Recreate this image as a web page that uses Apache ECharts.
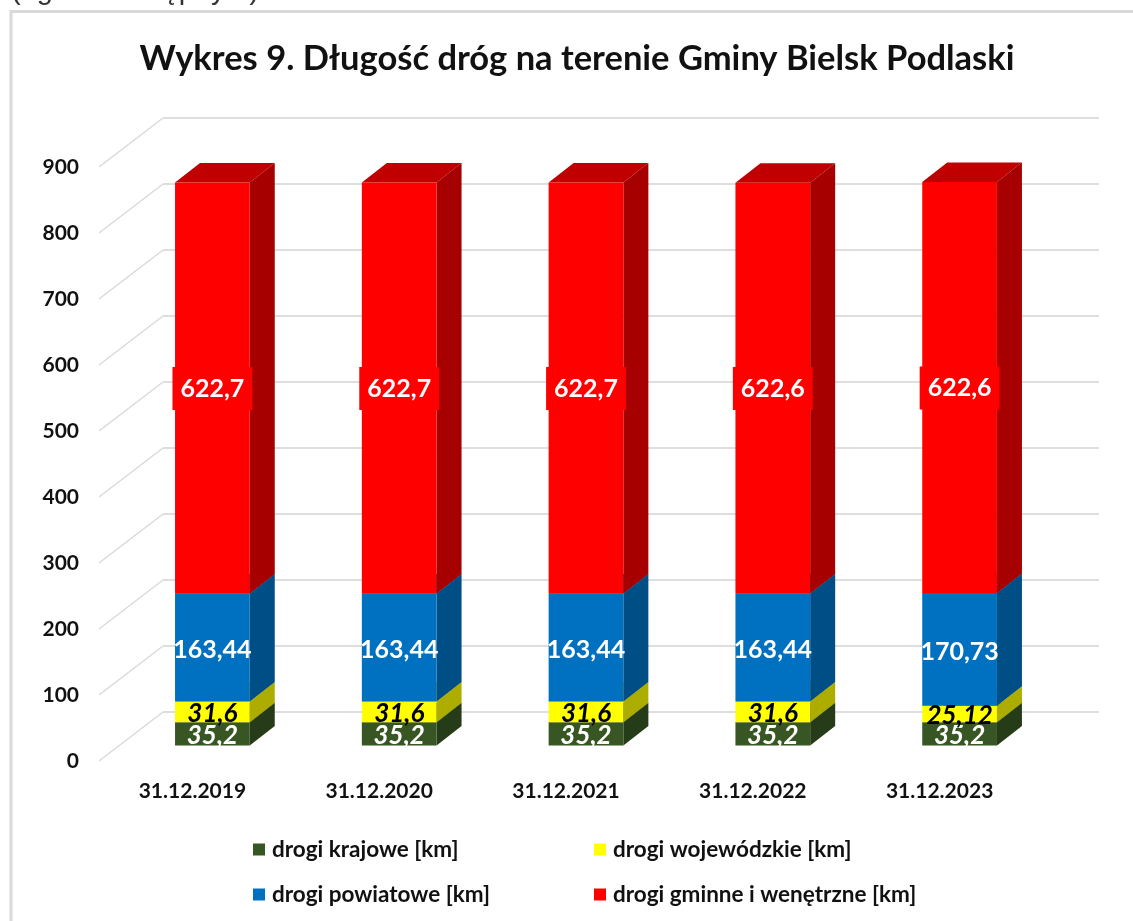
<!DOCTYPE html>
<html>
<head>
<meta charset="utf-8">
<title>Wykres 9</title>
<style>
  html, body { margin: 0; padding: 0; background: #fff; }
  #chart { width: 1133px; height: 921px; }
</style>
<script src="https://cdn.jsdelivr.net/npm/echarts@6/dist/echarts.min.js"></script>
</head>
<body>
<div id="chart"></div>
<script>
var categories = ["31.12.2019", "31.12.2020", "31.12.2021", "31.12.2022", "31.12.2023"];
var krajowe = [35.2, 35.2, 35.2, 35.2, 35.2];
var wojewodzkie = [31.6, 31.6, 31.6, 31.6, 25.12];
var powiatowe = [163.44, 163.44, 163.44, 163.44, 170.73];
var gminne = [622.7, 622.7, 622.7, 622.6, 622.6];
var yTicks = [0, 100, 200, 300, 400, 500, 600, 700, 800, 900];

var fontName = "Lato, 'Noto Sans', sans-serif";
var textColor = "#111111";

// udajemy 3D: sciana tylna przesunieta o wall*, slupek stoi w srodku glebokosci
var wallDx = 64, wallDy = -49;
var barDx = 20, barDy = -15.5;
var depthDx = 25, depthDy = -19.5;

// kolejne slupki stosu: [kategoria, poczatek, koniec, wartosc]
var offsets = categories.map(function () { return 0; });
function stackData(values) {
  return values.map(function (v, i) {
    var row = [i, offsets[i], offsets[i] + v, v];
    offsets[i] += v;
    return row;
  });
}

function barRender(face, side, top, label, labelDy) {
  return function (params, api) {
    var a = api.coord([api.value(0), api.value(1)]);
    var b = api.coord([api.value(0), api.value(2)]);
    var w = api.size([1, 0])[0] * 0.4;
    var x0 = a[0] - w / 2 + barDx, x1 = x0 + w;
    var y0 = a[1] + barDy, y1 = b[1] + barDy;
    var children = [
      { type: "polygon", z2: 1, shape: { points: [[x0, y1], [x1, y1], [x1 + depthDx, y1 + depthDy], [x0 + depthDx, y1 + depthDy]] }, style: { fill: top } },
      { type: "polygon", z2: 1, shape: { points: [[x1, y0], [x1 + depthDx, y0 + depthDy], [x1 + depthDx, y1 + depthDy], [x1, y1]] }, style: { fill: side } },
      { type: "rect", z2: 2, shape: { x: x0, y: y1, width: w, height: y0 - y1 }, style: { fill: face } },
      {
        type: "text", z2: 100,
        style: Object.assign({
          x: (x0 + x1) / 2, y: (y0 + y1) / 2 + labelDy,
          text: String(api.value(3)).replace(".", ","),
          align: "center", verticalAlign: "middle"
        }, label)
      }
    ];
    return { type: "group", children: children };
  };
}

function gridRender(params, api) {
  var y = api.coord([0, api.value(0)])[1];
  var x = params.coordSys.x;
  var xEnd = x + params.coordSys.width + 2;
  return {
    type: "group",
    children: [
      { type: "line", shape: { x1: x, y1: y, x2: x + wallDx, y2: y + wallDy }, style: { stroke: "#dadada", lineWidth: 1.5 } },
      { type: "line", shape: { x1: x + wallDx, y1: y + wallDy, x2: xEnd + wallDx, y2: y + wallDy }, style: { stroke: "#dedede", lineWidth: 2 } }
    ]
  };
}

function barSeries(name, values, face, side, top, label, labelDy) {
  return {
    name: name,
    type: "custom",
    coordinateSystem: "cartesian2d",
    clip: false,
    itemStyle: { color: face },
    encode: { x: 0, y: [1, 2] },
    data: stackData(values),
    renderItem: barRender(face, side, top, label, labelDy)
  };
}

var option = {
  animation: false,
  backgroundColor: "#ffffff",
  title: {
    text: "Wykres 9. Długość dróg na terenie Gminy Bielsk Podlaski",
    left: 572,
    top: 36,
    textAlign: "center",
    textStyle: { fontFamily: fontName, fontWeight: "bold", fontSize: 34.5, color: textColor }
  },
  graphic: [
    // ramka wykresu
    { type: "rect", silent: true, shape: { x: 11, y: 11.5, width: 1140, height: 930 }, style: { fill: "none", stroke: "#d9d9d9", lineWidth: 3 } },
    // obciety wiersz tekstu nad wykresem
    { type: "text", silent: true, style: { x: 11, y: 5, text: "(ogólnodostępnym)", fill: "#333", verticalAlign: "bottom", font: "29px 'Liberation Sans'" } }
  ],
  grid: { left: 99, right: 100, top: 167, bottom: 160 },
  legend: [
    {
      orient: "vertical", left: 248, top: 833, itemGap: 22, itemWidth: 12, itemHeight: 12,
      icon: "rect",
      data: ["drogi krajowe [km]", "drogi powiatowe [km]"],
      textStyle: { fontFamily: fontName, fontWeight: "bold", fontSize: 22.5, color: textColor, padding: [0, 0, 0, 2] }
    },
    {
      orient: "vertical", left: 589, top: 833, itemGap: 22, itemWidth: 12, itemHeight: 12,
      icon: "rect",
      data: ["drogi wojewódzkie [km]", "drogi gminne i wenętrzne [km]"],
      textStyle: { fontFamily: fontName, fontWeight: "bold", fontSize: 22.5, color: textColor, padding: [0, 0, 0, 2] }
    }
  ],
  xAxis: {
    type: "category",
    data: categories,
    axisLine: { show: false },
    axisTick: { show: false },
    axisLabel: { margin: 20, fontFamily: fontName, fontWeight: "bold", fontSize: 21, color: textColor }
  },
  yAxis: {
    type: "value",
    min: 0,
    max: 900,
    interval: 100,
    axisLine: { show: false },
    axisTick: { show: false },
    splitLine: { show: false },
    axisLabel: { margin: 20, padding: [4, 0, 0, 0], fontFamily: fontName, fontWeight: "bold", fontSize: 21, color: textColor }
  },
  series: [
    {
      type: "custom",
      coordinateSystem: "cartesian2d",
      clip: false,
      silent: true,
      encode: { y: 0 },
      data: yTicks.map(function (t) { return [t]; }),
      renderItem: gridRender
    },
    barSeries("drogi krajowe [km]", krajowe, "#375623", "#263c18", "#2c451c",
      { fill: "#ffffff", font: "italic bold 26px " + fontName }, 2),
    barSeries("drogi wojewódzkie [km]", wojewodzkie, "#ffff00", "#adad00", "#c8c800",
      { fill: "#000000", font: "italic bold 26px " + fontName }, 2),
    barSeries("drogi powiatowe [km]", powiatowe, "#0070c0", "#004e86", "#005a9a",
      { fill: "#ffffff", font: "bold 25px " + fontName }, 2.5),
    barSeries("drogi gminne i wenętrzne [km]", gminne, "#ff0000", "#a60000", "#c00000",
      { fill: "#ffffff", font: "bold 25px " + fontName, backgroundColor: "#ff0000", padding: [11, 8, 7, 8] }, 0.5)
  ]
};

var chart = echarts.init(document.getElementById("chart"));
chart.setOption(option);
</script>
</body>
</html>
